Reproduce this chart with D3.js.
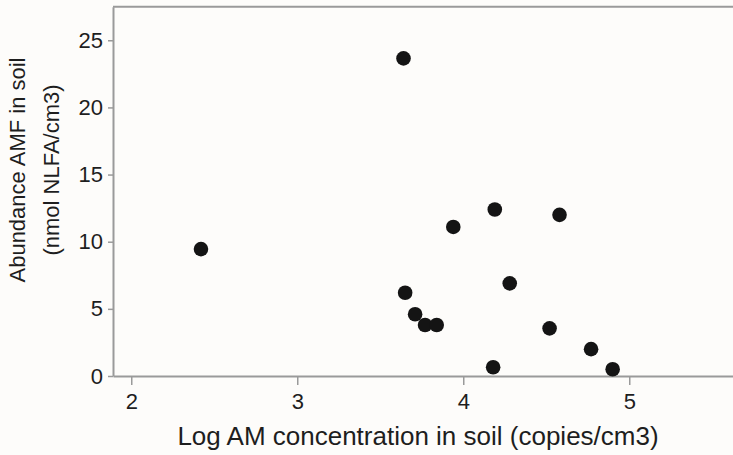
<!DOCTYPE html>
<html>
<head>
<meta charset="utf-8">
<script src="https://cdn.jsdelivr.net/npm/d3@7"></script>
<style>
  body { margin: 0; background: #fdfcfa; }
  svg { display: block; font-family: "Liberation Sans", Arial, sans-serif; }
</style>
</head>
<body>
<div id="chart"></div>
<script>
// Log AM concentration in soil vs abundance AMF
const logAM = [2.42, 3.64, 3.94, 4.19, 4.58, 3.65, 4.28, 3.71, 3.77, 3.84, 4.52, 4.77, 4.18, 4.90];
const amf   = [9.45, 23.65, 11.1, 12.4, 12.0, 6.2, 6.9, 4.6, 3.8, 3.8, 3.55, 2.0, 0.65, 0.5];
const xTicks = [2, 3, 4, 5];
const yTicks = [0, 5, 10, 15, 20, 25];

const W = 733, H = 455;
const svg = d3.select("#chart").append("svg")
    .attr("width", W)
    .attr("height", H);

const x = d3.scaleLinear().domain([1.89, 5.625]).range([113, 733]);
const y = d3.scaleLinear().domain([0, 27.5]).range([376, 6.7]);

const grey = "#9a9a9a";

// top frame line
svg.append("line")
   .attr("x1", 113).attr("x2", W)
   .attr("y1", y(27.5)).attr("y2", y(27.5))
   .attr("stroke", grey).attr("stroke-width", 2);

// X axis
const gx = svg.append("g")
   .attr("transform", `translate(0, ${y(0)})`)
   .call(d3.axisBottom(x).tickValues(xTicks).tickFormat(d3.format("d"))
           .tickSize(9).tickSizeOuter(0).tickPadding(8))
   .attr("font-family", null);
gx.select(".domain").attr("stroke", grey).attr("stroke-width", 2);
gx.selectAll(".tick line").attr("stroke", grey).attr("stroke-width", 1.5);
gx.selectAll(".tick text").style("font-size", "22px").attr("fill", "#1e1e1e");

// Y axis
const gy = svg.append("g")
   .attr("transform", `translate(${x(1.89)}, 0)`)
   .call(d3.axisLeft(y).tickValues(yTicks).tickSize(5).tickSizeOuter(0).tickPadding(5))
   .attr("font-family", null);
gy.select(".domain").attr("stroke", grey).attr("stroke-width", 2);
gy.selectAll(".tick line").attr("stroke", grey).attr("stroke-width", 1.5);
gy.selectAll(".tick text").style("font-size", "22px").attr("fill", "#1e1e1e");

// axis titles
svg.append("text")
   .attr("x", 418)
   .attr("y", 445)
   .attr("text-anchor", "middle")
   .style("font-size", "26px")
   .attr("fill", "#1e1e1e")
   .text("Log AM concentration in soil (copies/cm3)");

const yt = svg.append("text")
   .attr("transform", "translate(25, 170) rotate(-90)")
   .attr("text-anchor", "middle")
   .style("font-size", "22px")
   .attr("fill", "#1e1e1e");
yt.append("tspan").attr("x", 0).attr("y", 0).text("Abundance AMF in soil");
yt.append("tspan").attr("x", 0).attr("y", 34).text("(nmol NLFA/cm3)");

// points
svg.selectAll(".dot")
   .data(logAM.map((v, i) => ({ x: v, y: amf[i] })))
   .enter().append("circle")
   .attr("class", "dot")
   .attr("cx", d => x(d.x))
   .attr("cy", d => y(d.y))
   .attr("r", 7.3)
   .attr("fill", "#141414");
</script>
</body>
</html>
